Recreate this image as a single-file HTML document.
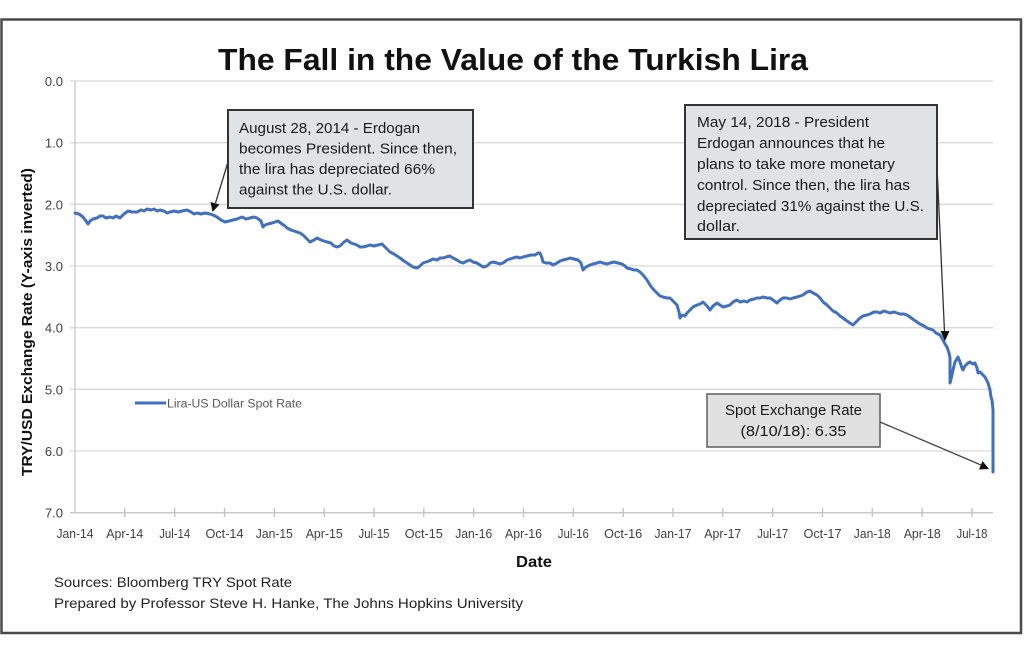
<!DOCTYPE html>
<html><head><meta charset="utf-8"><style>
html,body{margin:0;padding:0;background:#fff;}
svg{display:block;}
text{font-family:"Liberation Sans",sans-serif;}
</style></head><body>
<svg width="1024" height="649" viewBox="0 0 1024 649" xmlns="http://www.w3.org/2000/svg">
<rect x="0" y="0" width="1024" height="649" fill="#fff"/>
<rect x="1.5" y="19.5" width="1019.5" height="613.5" fill="#fff" stroke="#4a4a4a" stroke-width="2.5"/>

<text x="513" y="70" font-size="31" font-weight="bold" fill="#111" text-anchor="middle" textLength="590" lengthAdjust="spacingAndGlyphs">The Fall in the Value of the Turkish Lira</text>

<g stroke="#d9d9d9" stroke-width="1.3">
<line x1="70" y1="81" x2="993" y2="81"/>
<line x1="70" y1="142.7" x2="993" y2="142.7"/>
<line x1="70" y1="204.3" x2="993" y2="204.3"/>
<line x1="70" y1="266" x2="993" y2="266"/>
<line x1="70" y1="327.7" x2="993" y2="327.7"/>
<line x1="70" y1="389.3" x2="993" y2="389.3"/>
<line x1="70" y1="451" x2="993" y2="451"/>
</g>
<line x1="75" y1="81" x2="75" y2="513" stroke="#c8c8c8" stroke-width="1.3"/>
<line x1="70" y1="512.7" x2="993" y2="512.7" stroke="#c8c8c8" stroke-width="1.5"/>
<g stroke="#c0c0c0" stroke-width="1.3">
<line x1="124.8" y1="508" x2="124.8" y2="517"/><line x1="174.7" y1="508" x2="174.7" y2="517"/>
<line x1="224.5" y1="508" x2="224.5" y2="517"/><line x1="274.3" y1="508" x2="274.3" y2="517"/>
<line x1="324.2" y1="508" x2="324.2" y2="517"/><line x1="374" y1="508" x2="374" y2="517"/>
<line x1="423.8" y1="508" x2="423.8" y2="517"/><line x1="473.7" y1="508" x2="473.7" y2="517"/>
<line x1="523.5" y1="508" x2="523.5" y2="517"/><line x1="573.3" y1="508" x2="573.3" y2="517"/>
<line x1="623.2" y1="508" x2="623.2" y2="517"/><line x1="673" y1="508" x2="673" y2="517"/>
<line x1="722.8" y1="508" x2="722.8" y2="517"/><line x1="772.7" y1="508" x2="772.7" y2="517"/>
<line x1="822.5" y1="508" x2="822.5" y2="517"/><line x1="872.3" y1="508" x2="872.3" y2="517"/>
<line x1="922.2" y1="508" x2="922.2" y2="517"/><line x1="972" y1="508" x2="972" y2="517"/>
</g>

<g font-size="13" fill="#404040" text-anchor="end">
<text x="63" y="86">0.0</text>
<text x="63" y="147.7">1.0</text>
<text x="63" y="209.3">2.0</text>
<text x="63" y="271">3.0</text>
<text x="63" y="332.7">4.0</text>
<text x="63" y="394.3">5.0</text>
<text x="63" y="456">6.0</text>
<text x="63" y="517.7">7.0</text>
</g>

<g font-size="12.5" fill="#404040" text-anchor="middle">
<text x="75" y="538" textLength="37" lengthAdjust="spacingAndGlyphs">Jan-14</text>
<text x="124.8" y="538" textLength="37" lengthAdjust="spacingAndGlyphs">Apr-14</text>
<text x="174.7" y="538" textLength="31" lengthAdjust="spacingAndGlyphs">Jul-14</text>
<text x="224.5" y="538" textLength="38" lengthAdjust="spacingAndGlyphs">Oct-14</text>
<text x="274.3" y="538" textLength="37" lengthAdjust="spacingAndGlyphs">Jan-15</text>
<text x="324.2" y="538" textLength="37" lengthAdjust="spacingAndGlyphs">Apr-15</text>
<text x="374" y="538" textLength="31" lengthAdjust="spacingAndGlyphs">Jul-15</text>
<text x="423.8" y="538" textLength="38" lengthAdjust="spacingAndGlyphs">Oct-15</text>
<text x="473.7" y="538" textLength="37" lengthAdjust="spacingAndGlyphs">Jan-16</text>
<text x="523.5" y="538" textLength="37" lengthAdjust="spacingAndGlyphs">Apr-16</text>
<text x="573.3" y="538" textLength="31" lengthAdjust="spacingAndGlyphs">Jul-16</text>
<text x="623.2" y="538" textLength="38" lengthAdjust="spacingAndGlyphs">Oct-16</text>
<text x="673" y="538" textLength="37" lengthAdjust="spacingAndGlyphs">Jan-17</text>
<text x="722.8" y="538" textLength="37" lengthAdjust="spacingAndGlyphs">Apr-17</text>
<text x="772.7" y="538" textLength="31" lengthAdjust="spacingAndGlyphs">Jul-17</text>
<text x="822.5" y="538" textLength="38" lengthAdjust="spacingAndGlyphs">Oct-17</text>
<text x="872.3" y="538" textLength="37" lengthAdjust="spacingAndGlyphs">Jan-18</text>
<text x="922.2" y="538" textLength="37" lengthAdjust="spacingAndGlyphs">Apr-18</text>
<text x="972" y="538" textLength="31" lengthAdjust="spacingAndGlyphs">Jul-18</text>
</g>

<text transform="translate(32,322) rotate(-90)" font-size="15" font-weight="bold" fill="#111" text-anchor="middle" textLength="308" lengthAdjust="spacingAndGlyphs">TRY/USD Exchange Rate (Y-axis inverted)</text>

<text x="534" y="567" font-size="16" font-weight="bold" fill="#111" text-anchor="middle" textLength="36" lengthAdjust="spacingAndGlyphs">Date</text>

<text x="54" y="587" font-size="14" fill="#222" textLength="238" lengthAdjust="spacingAndGlyphs">Sources: Bloomberg TRY Spot Rate</text>
<text x="54" y="608" font-size="14" fill="#222" textLength="469" lengthAdjust="spacingAndGlyphs">Prepared by Professor Steve H. Hanke, The Johns Hopkins University</text>

<line x1="135" y1="403" x2="166" y2="403" stroke="#4170be" stroke-width="3"/>
<text x="167" y="407.5" font-size="11.5" fill="#5a5a5a" textLength="135" lengthAdjust="spacingAndGlyphs">Lira-US Dollar Spot Rate</text>

<polyline fill="none" stroke="#4170be" stroke-width="3" stroke-linejoin="round" stroke-linecap="round" points="75,213 79,214 83,217 86,221 88,224 90,221 93,219 97,218 100,216 103,216 106,218 110,217 113,218 116,216 120,218 124,214 128,211 132,212 137,212 141,210 144,211 147,209 151,210 154,209 157,211 160,210 164,211 167,213 170,212 174,211 178,212 182,211 187,210 191,212 194,214 197,213 201,214 205,213 210,214 213,215 217,217 221,220 225,222 229,221 233,220 237,219 242,217 246,219 250,218 254,217 257,218 261,221 263,227 265,225 268,224 272,223 275,222 278,221 282,224 285,226 287,228 291,230 294,231 297,232 300,233 303,235 307,239 310,242 314,240 317,238 321,240 324,241 327,242 331,243 334,246 337,247 340,246 344,242 347,240 351,243 354,244 357,245 360,247 363,247 367,246 370,245 374,246 378,245 382,244 386,248 390,252 394,254 397,256 400,258 404,261 407,263 410,265 413,267 417,268 420,266 423,263 426,262 429,261 433,259 437,260 440,258 443,258 446,257 450,256 453,258 457,260 460,262 463,263 467,261 470,260 473,262 477,263 480,265 483,267 487,266 490,263 493,262 497,263 500,264 503,263 507,260 510,259 513,258 517,257 520,258 523,257 527,256 531,255 535,255 538,253 540,253 542,258 543,262 546,263 550,263 553,265 557,263 560,261 563,260 567,259 570,258 574,259 578,260 581,263 583,270 586,267 590,265 593,264 597,263 600,262 603,263 607,264 610,263 614,262 618,263 622,264 625,266 627,268 631,269 634,270 637,270 640,272 643,275 647,280 650,285 653,289 657,293 660,296 663,297 667,298 670,298 673,301 677,305 679,312 680,318 682,315 685,316 687,313 690,310 693,307 697,305 700,304 703,302 707,306 710,310 713,306 717,303 720,305 723,307 727,306 730,305 733,302 737,300 740,302 744,301 747,302 750,300 754,299 757,298 760,298 763,297 767,298 770,298 773,300 777,303 780,300 783,298 787,298 790,299 793,298 797,297 800,296 803,295 807,292 810,291 813,293 817,295 820,298 823,302 827,305 830,308 833,311 837,313 840,316 843,318 847,321 850,323 853,325 856,322 860,318 863,316 867,315 870,314 874,312 877,312 880,313 884,311 887,312 890,313 894,312 897,313 900,314 904,314 907,315 910,317 914,320 917,322 920,324 924,326 927,328 930,329 933,330 936,333 940,335 943,340 945,344 947,347 949,353 950,358 950,372 950,383 952,375 953,370 955,362 958,357 960,362 962,368 963,370 965,366 968,363 970,362 973,364 975,363 977,368 978,373 980,372 983,375 985,377 988,383 990,390 991,397 992,400 993,410 993,440 993,472"/>

<!-- Annotation 1 -->
<rect x="228" y="110" width="245" height="98" fill="#dfe3e5" stroke="#333" stroke-width="2"/>
<g font-size="14.5" fill="#1a1a1a">
<text x="239" y="133" textLength="181" lengthAdjust="spacingAndGlyphs">August 28, 2014 - Erdogan</text>
<text x="239" y="153.5" textLength="218" lengthAdjust="spacingAndGlyphs">becomes President.  Since then,</text>
<text x="239" y="174" textLength="196" lengthAdjust="spacingAndGlyphs">the lira has depreciated 66%</text>
<text x="239" y="194.5" textLength="153" lengthAdjust="spacingAndGlyphs">against the U.S. dollar.</text>
</g>
<line x1="228" y1="162" x2="215.5" y2="203" stroke="#333" stroke-width="1.3"/>
<polygon points="212.5,212 210.5,202 219.5,204.5" fill="#111"/>

<!-- Annotation 2 -->
<rect x="685" y="105" width="252" height="134" fill="#dfe3e5" stroke="#333" stroke-width="2"/>
<g font-size="14.5" fill="#1a1a1a">
<text x="697" y="127" textLength="172" lengthAdjust="spacingAndGlyphs">May 14, 2018 - President</text>
<text x="697" y="148" textLength="188" lengthAdjust="spacingAndGlyphs">Erdogan announces that he</text>
<text x="697" y="169" textLength="198" lengthAdjust="spacingAndGlyphs">plans to take more monetary</text>
<text x="697" y="190" textLength="213" lengthAdjust="spacingAndGlyphs">control. Since then, the lira has</text>
<text x="697" y="211" textLength="227" lengthAdjust="spacingAndGlyphs">depreciated 31% against the U.S.</text>
<text x="697" y="231" textLength="43" lengthAdjust="spacingAndGlyphs">dollar.</text>
</g>
<line x1="937" y1="166" x2="944.5" y2="332" stroke="#333" stroke-width="1.3"/>
<polygon points="945,341 940.5,331 949.5,331" fill="#111"/>

<!-- Annotation 3 -->
<rect x="707" y="394" width="173" height="53" fill="#e1e1e1" stroke="#666" stroke-width="1.6"/>
<g font-size="14.5" fill="#1a1a1a" text-anchor="middle">
<text x="793.5" y="415" textLength="137" lengthAdjust="spacingAndGlyphs">Spot Exchange Rate</text>
<text x="793.5" y="436" textLength="106" lengthAdjust="spacingAndGlyphs">(8/10/18): 6.35</text>
</g>
<line x1="880" y1="422" x2="981" y2="465" stroke="#444" stroke-width="1.3"/>
<polygon points="989,469 979,469.5 982.5,461" fill="#111"/>
</svg>
</body></html>
